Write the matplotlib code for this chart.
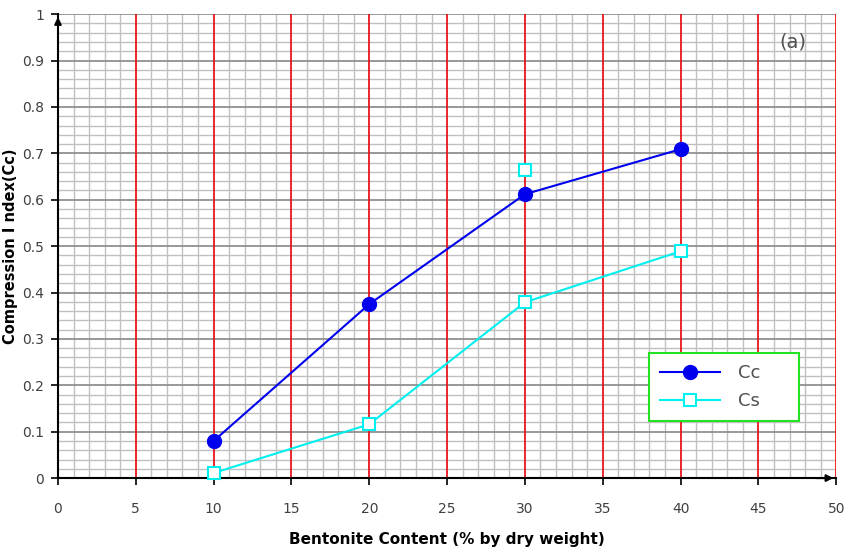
import numpy as np
import matplotlib.pyplot as plt
from matplotlib.ticker import MultipleLocator

# bentonite content (%) and compression / swelling indices
bentonite = [10, 20, 30, 40]
cc_values = [0.080, 0.375, 0.612, 0.709]
cs_values = [0.011, 0.116, 0.379, 0.489]
# stray Cs point at 30 %
cs_extra_x = [30]
cs_extra_y = [0.664]

fig = plt.figure(figsize=(8.45, 5.47), dpi=100)
ax = fig.add_axes([0.0686, 0.126, 0.921, 0.848])

ax.set_xlim(0, 50)
ax.set_ylim(0, 1)
ax.xaxis.set_major_locator(MultipleLocator(5))
ax.xaxis.set_minor_locator(MultipleLocator(1))
ax.yaxis.set_major_locator(MultipleLocator(0.1))
ax.yaxis.set_minor_locator(MultipleLocator(0.02))

# graph-paper grid: light minor lines, darker horizontal majors, red verticals
ax.grid(which="minor", color="#c0c0c0", linewidth=1.0, zorder=0)
ax.set_axisbelow(True)
for y in np.arange(0.1, 1.01, 0.1):
    ax.axhline(y, color="#909090", linewidth=1.3, zorder=1)
for x in range(5, 51, 5):
    ax.axvline(x, color="#e8161b", linewidth=1.3, zorder=1)

for s in ["top", "right"]:
    ax.spines[s].set_visible(False)
ax.spines["left"].set_linewidth(1.5)
ax.spines["bottom"].set_linewidth(1.5)

ax.tick_params(which="major", direction="out", length=5, width=1.2,
               labelsize=10, labelcolor="#404040", pad=12)
ax.tick_params(which="minor", length=0)
ax.set_xticks(np.arange(0, 51, 5))
ax.set_xticklabels([str(v) for v in range(0, 51, 5)])
ax.set_yticks(np.round(np.arange(0, 1.01, 0.1), 1))
ax.set_yticklabels(["0"] + ["%.1f" % v for v in np.arange(0.1, 1.0, 0.1)] + ["1"])
ax.tick_params(axis="y", pad=5)

# axis arrows
ax.annotate("", xy=(1.0, 0), xytext=(0.97, 0), xycoords="axes fraction",
            arrowprops=dict(arrowstyle="-|>", color="black", lw=1.5, mutation_scale=10))
ax.annotate("", xy=(0, 1.0), xytext=(0, 0.97), xycoords="axes fraction",
            arrowprops=dict(arrowstyle="-|>", color="black", lw=1.5, mutation_scale=10))

ax.plot(bentonite, cc_values, color="#0000ee", lw=1.5, marker="o", markersize=10,
        label="Cc", clip_on=False, zorder=4)
ax.plot(bentonite, cs_values, color="#00f0f0", lw=1.5, marker="s", markersize=9,
        markerfacecolor="white", markeredgewidth=1.5, label="Cs", clip_on=False, zorder=4)
ax.plot(cs_extra_x, cs_extra_y, linestyle="none", color="#00f0f0", marker="s", markersize=9,
        markerfacecolor="white", markeredgewidth=1.5, zorder=4)

leg = ax.legend(loc="lower left", bbox_to_anchor=(0.76, 0.123, 0.192, 0.146),
                mode="expand", borderaxespad=0, fancybox=False, framealpha=1,
                edgecolor="#22e222", fontsize=13, handlelength=3.3, borderpad=0.6,
                labelspacing=0.55, handletextpad=1.0)
leg.get_frame().set_linewidth(1.5)
leg.set_zorder(5)
for t in leg.get_texts():
    t.set_color("#505050")

ax.text(47.2, 0.94, "(a)", fontsize=14, color="#505050", ha="center", va="center")

ax.set_xlabel("Bentonite Content (% by dry weight)", fontsize=11, fontweight="bold", labelpad=12)
ax.set_ylabel("Compression I ndex(Cc)", fontsize=10.5, fontweight="bold", labelpad=3)

fig.savefig("out.png", dpi=100)
